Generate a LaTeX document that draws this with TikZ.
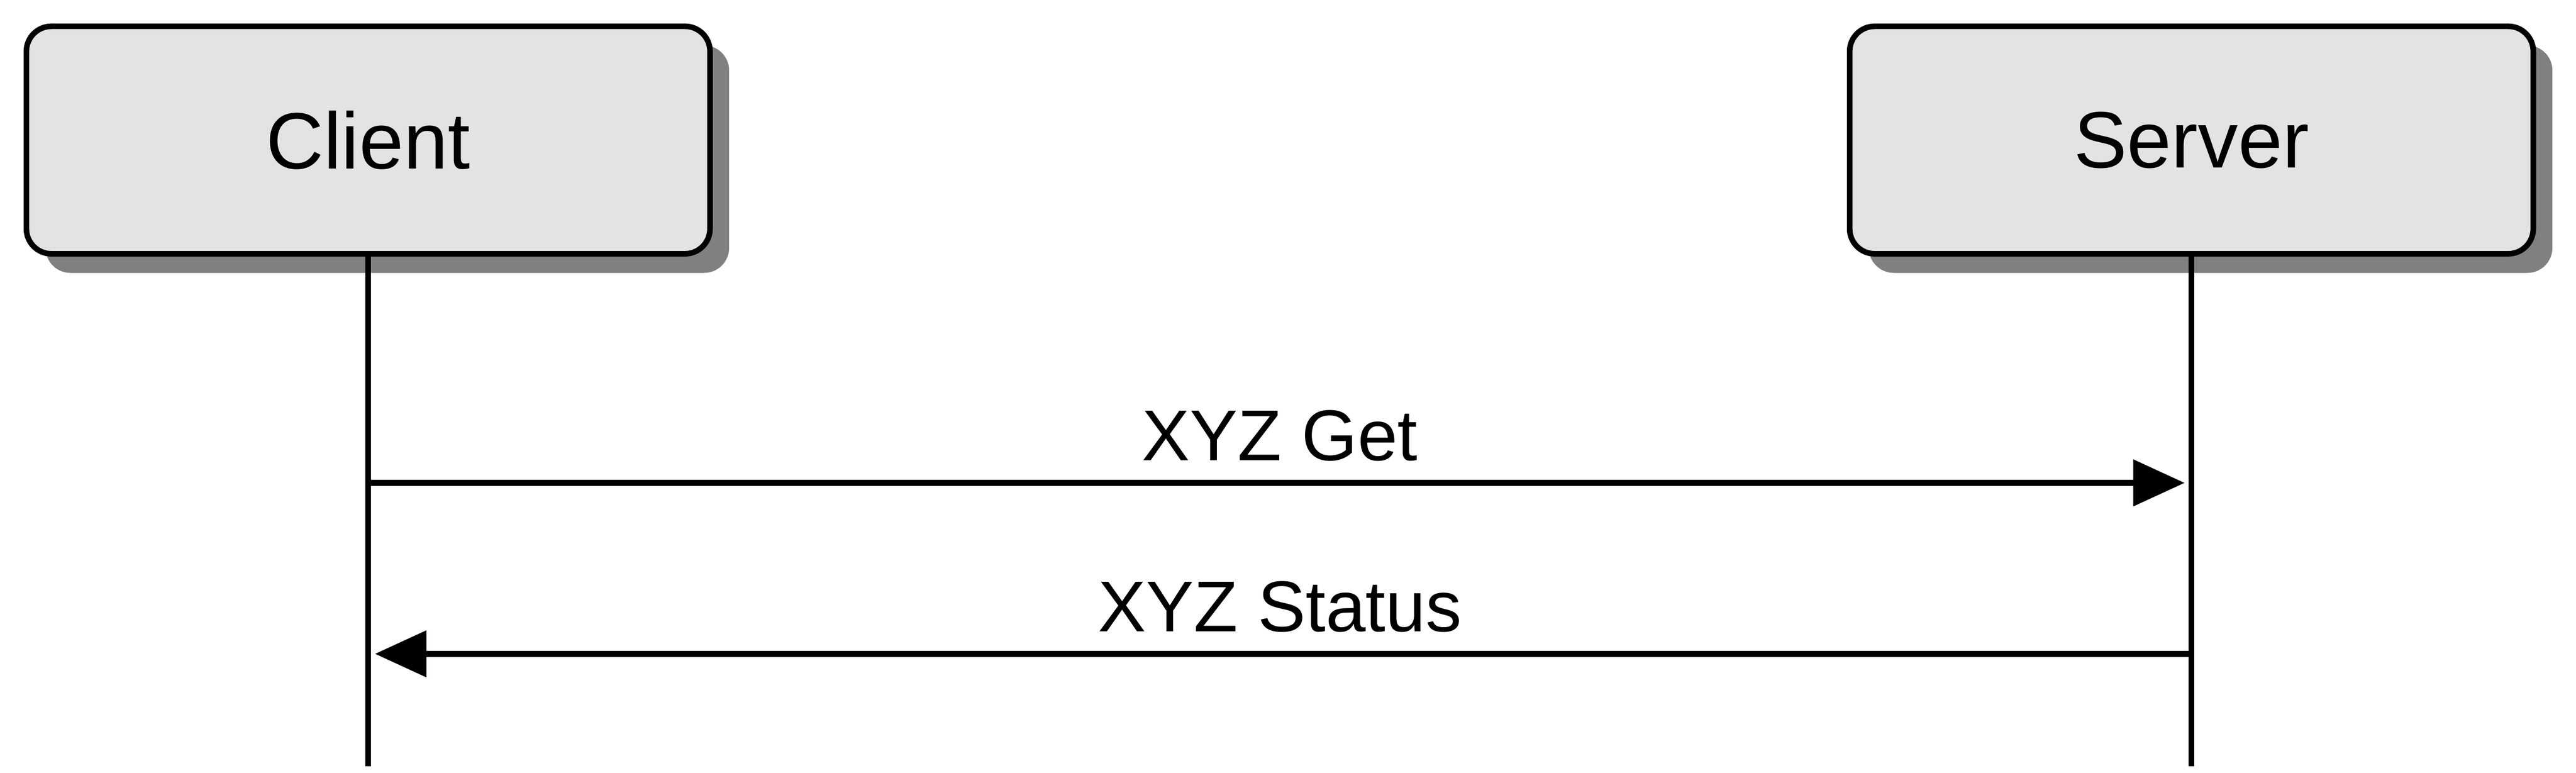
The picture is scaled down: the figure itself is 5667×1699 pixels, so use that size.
\documentclass[tikz,border=0pt]{standalone}
\usepackage{fontspec}
\setmainfont{Liberation Sans}
\usetikzlibrary{arrows.meta,shadows}

\definecolor{boxgray}{HTML}{E3E3E3}
\definecolor{shadegray}{HTML}{808080}

\tikzset{
  party/.style={draw, line width=3.5pt, rounded corners=0.55cm, fill=boxgray,
    minimum width=15.03cm, minimum height=5cm, inner sep=0pt,
    font=\fontsize{50}{60}\selectfont,
    drop shadow={shadow xshift=0.42cm, shadow yshift=-0.42cm, fill=shadegray, opacity=1}},
  lifeline/.style={line width=3.7pt},
  msg/.style={line width=3.7pt, -{Triangle[length=1.13cm, width=1cm]}, shorten >=0.15cm},
  msglabel/.style={pos=0.5, anchor=base, yshift=0.49cm, font=\fontsize{45}{54}\selectfont}
}

\begin{document}
\begin{tikzpicture}[x=0.01cm, y=-0.01cm]
    \useasboundingbox (0,0) rectangle (5667,1699);
    % Draw the two parties
    \node[party] (client) at (810,308) {Client};
    \node[party] (server) at (4821,308) {Server};
    % Draw the lifelines
    \coordinate (cbot) at (810,1685);
    \coordinate (sbot) at (4821,1685);
    \draw[lifeline] (client.south) -- (cbot);
    \draw[lifeline] (server.south) -- (sbot);
    % Draw the messages
    \coordinate (cget) at (810,1062);
    \coordinate (sget) at (4821,1062);
    \coordinate (cstat) at (810,1438);
    \coordinate (sstat) at (4821,1438);
    \draw[msg] (cget) -- node[msglabel] {XYZ Get} (sget);
    \draw[msg] (sstat) -- node[msglabel] {XYZ Status} (cstat);
\end{tikzpicture}
\end{document}
